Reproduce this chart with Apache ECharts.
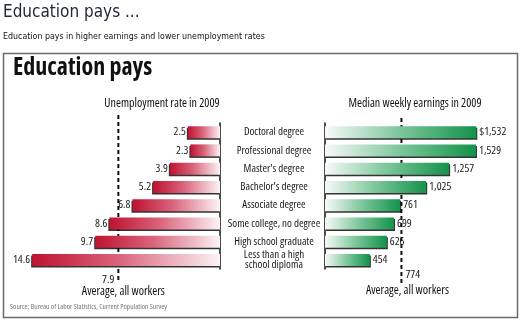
<!DOCTYPE html>
<html><head><meta charset="utf-8">
<script src="https://cdn.jsdelivr.net/npm/echarts@6/dist/echarts.min.js"></script>
<style>html,body{margin:0;padding:0;background:#fff}#c{width:525px;height:323px}</style>
</head><body><div id="c"></div>
<script>
const categories = ["Doctoral degree","Professional degree","Master's degree","Bachelor's degree","Associate degree","Some college, no degree","High school graduate","Less than a high\nschool diploma"];
const unemployment = [2.5,2.3,3.9,5.2,6.8,8.6,9.7,14.6];
const earnings = [1532,1529,1257,1025,761,699,626,454];
const avgUnemployment = 7.9;
const avgEarnings = 774;
const unemploymentLabels = ["2.5","2.3","3.9","5.2","6.8","8.6","9.7","14.6"];
const earningsLabels = ["$1,532","1,529","1,257","1,025","761","699","626","454"];

const FAM = '"Open Sans"';
const CF = (size, weight) => 'condensed ' + (weight || 'normal') + ' ' + size + 'px ' + FAM;
const txt = {fontStyle:'condensed', fontFamily:FAM, fontSize:11.5, color:'#1a1a1a'};
const chart = echarts.init(document.getElementById('c'), null, {renderer:'canvas'});
const top0 = 123, h0 = 146;
const option = {
  animation:false,
  grid:[
    {left:27, right:305, top:top0, height:h0},
    {left:325, right:42, top:top0, height:h0}
  ],
  xAxis:[
    {gridIndex:0, type:'value', min:0, max:15, inverse:true, show:false},
    {gridIndex:1, type:'value', min:0, max:1600, show:false}
  ],
  yAxis:[
    {gridIndex:0, type:'category', data:categories, inverse:true, position:'right',
     axisLine:{show:true, lineStyle:{color:'#111', width:1.5}}, axisTick:{show:false},
     axisLabel:Object.assign({show:true, align:'center', margin:54, lineHeight:10}, txt, {fontSize:11})},
    {gridIndex:1, type:'category', data:categories, inverse:true, position:'left',
     axisLine:{show:true, lineStyle:{color:'#111', width:1.5}}, axisTick:{show:false}, axisLabel:{show:false}}
  ],
  series:[
    {type:'bar', xAxisIndex:0, yAxisIndex:0, data:unemployment, barWidth:12,
     itemStyle:{color:new echarts.graphic.LinearGradient(0,0,1,0,[{offset:0,color:'#be1330'},{offset:0.45,color:'#d9627a'},{offset:1,color:'#fcf3f5'}]),
       shadowColor:'rgba(0,0,0,0.8)', shadowOffsetY:1.5, shadowOffsetX:-1, shadowBlur:0},
     label:Object.assign({show:true, position:'left', distance:2,
       formatter:p=>unemploymentLabels[p.dataIndex]}, txt)},
    {type:'bar', xAxisIndex:1, yAxisIndex:1, data:earnings, barWidth:12,
     itemStyle:{color:new echarts.graphic.LinearGradient(0,0,1,0,[{offset:0,color:'#f8faf9'},{offset:0.5,color:'#7cc69a'},{offset:1,color:'#13924a'}]),
       shadowColor:'rgba(0,0,0,0.8)', shadowOffsetY:1.5, shadowOffsetX:1, shadowBlur:0},
     label:Object.assign({show:true, position:'right', distance:3,
       formatter:p=>earningsLabels[p.dataIndex]}, txt)}
  ]
};
chart.setOption(option);
const xl = chart.convertToPixel({xAxisIndex:0}, avgUnemployment);
const xr = chart.convertToPixel({xAxisIndex:1}, avgEarnings);
const dash = {stroke:'#111', lineWidth:2, lineDash:[4,3]};
chart.setOption({graphic:[
  {type:'text', left:3, top:4, style:{text:'Education pays ...', font:'17px "DejaVu Sans Condensed"', fill:'#23283a'}},
  {type:'text', left:3, top:32, style:{text:'Education pays in higher earnings and lower unemployment rates', font:'8.8px "DejaVu Sans Condensed"', fill:'#111'}},
  {type:'rect', shape:{x:3.5, y:53.5, width:514, height:264}, style:{fill:'none', stroke:'#6a6a6a', lineWidth:1.5}},
  {type:'text', left:13, top:56, style:{text:'Education pays', font:CF(24,'bold'), fill:'#111'}},
  {type:'text', x:162, y:104, style:{text:'Unemployment rate in 2009', font:CF(12), fill:'#111', align:'center', verticalAlign:'middle'}},
  {type:'text', x:415, y:104, style:{text:'Median weekly earnings in 2009', font:CF(12), fill:'#111', align:'center', verticalAlign:'middle'}},
  {type:'line', shape:{x1:xl, y1:115, x2:xl, y2:281}, style:dash},
  {type:'line', shape:{x1:xr, y1:118, x2:xr, y2:284}, style:dash},
  {type:'text', x:xl-4, y:280, style:{text:String(avgUnemployment), font:CF(11.5), fill:'#111', align:'right', verticalAlign:'middle'}},
  {type:'text', x:xl+5, y:292, style:{text:'Average, all workers', font:CF(12), fill:'#111', align:'center', verticalAlign:'middle'}},
  {type:'text', x:xr+4, y:275, style:{text:String(avgEarnings), font:CF(11.5), fill:'#111', align:'left', verticalAlign:'middle'}},
  {type:'text', x:xr+6, y:291, style:{text:'Average, all workers', font:CF(12), fill:'#111', align:'center', verticalAlign:'middle'}},
  {type:'text', left:10, top:303, style:{text:'Source: Bureau of Labor Statistics, Current Population Survey', font:CF(7.5), fill:'#777'}}
]});
</script></body></html>
